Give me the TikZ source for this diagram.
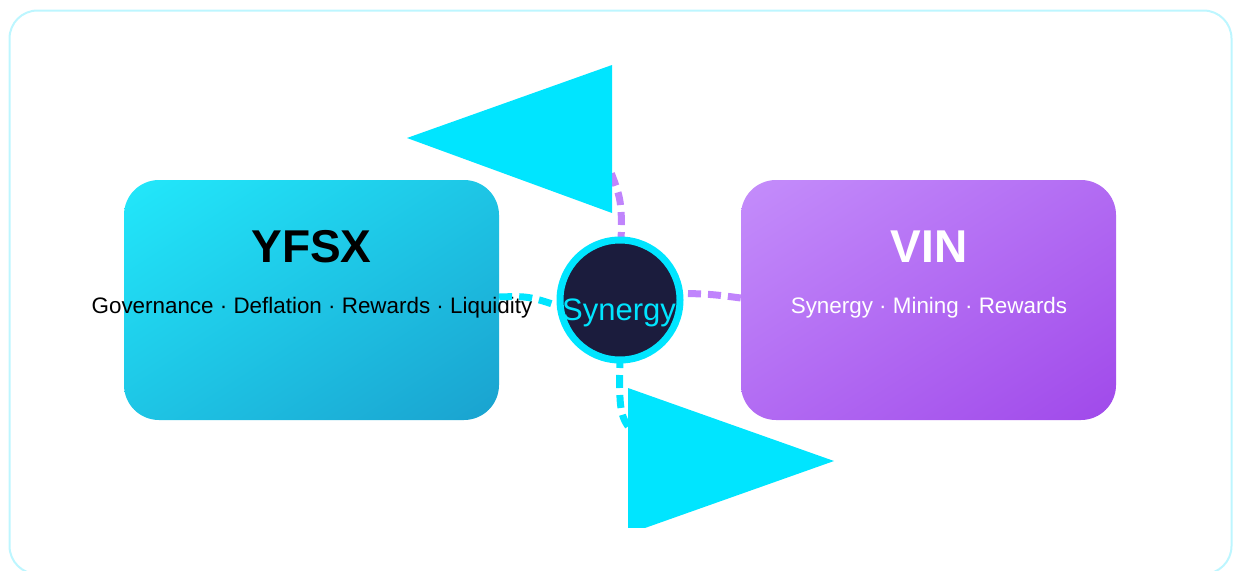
\documentclass[tikz,border=0pt]{standalone}
\usepackage{fontspec}
\setmainfont{Liberation Sans}
\usetikzlibrary{shadings}
\definecolor{frameC}{HTML}{BDF6FF}
\definecolor{cyA}{HTML}{22E8FB}
\definecolor{cyB}{HTML}{1AA2CF}
\definecolor{puA}{HTML}{C48DFB}
\definecolor{puB}{HTML}{A049EA}
\definecolor{cyanC}{HTML}{00E5FF}
\definecolor{purpleC}{HTML}{C084FC}
\definecolor{navyC}{HTML}{1B1C3D}
\tikzset{
  tokenbox/.style={rounded corners=35pt, minimum width=375pt, minimum height=240pt, inner sep=0pt},
  titletext/.style={anchor=base, inner sep=0pt, font=\fontsize{46}{46}\selectfont\bfseries},
  subtext/.style={anchor=base, inner sep=0pt, font=\fontsize{22.4}{22.4}\selectfont},
  cyandash/.style={draw=cyanC, line width=7pt, dash pattern=on 13pt off 7pt},
  purpledash/.style={draw=purpleC, line width=7pt, dash pattern=on 13pt off 7pt},
  bigtip/.style={fill=cyanC, draw=none},
}
\begin{document}
\begin{tikzpicture}[x=1pt,y=-1pt]
\useasboundingbox (0,0) rectangle (1233,570);
\begin{scope}
\clip (0,0) rectangle (1233,570);
\draw[frameC, line width=2pt, rounded corners=28pt] (9.5,10.5) rectangle (1231.5,574);
\end{scope}
% boxes
\node[tokenbox, shade, upper left=cyA, lower right=cyB, upper right=cyA!50!cyB, lower left=cyA!50!cyB] (yfsx) at (311.5,300) {};
\node[tokenbox, shade, upper left=puA, lower right=puB, upper right=puA!50!puB, lower left=puA!50!puB] (vin) at (928.5,300) {};
\node[titletext, text=black] (yfsxT) at (311.5,262) {YFSX};
\node[subtext, text=black] (yfsxS) at (312,313) {Governance · Deflation · Rewards · Liquidity};
\node[titletext, text=white] (vinT) at (929,262) {VIN};
\node[subtext, text=white] (vinS) at (929,313) {Synergy · Mining · Rewards};
% hub placeholder for anchors
\coordinate (hubc) at (620,300);
\coordinate (topend) at (606,160);
\coordinate (botend) at (642,442);
% connectors
\draw[cyandash] ([yshift=3pt]yfsx.east) .. controls (530,296) .. (575,312);
\draw[purpledash] (668,293) .. controls (710,294) .. ([yshift=2pt]vin.west);
\draw[purpledash] (621,245) .. controls (622,200) .. (topend);
\draw[cyandash] (620,355) .. controls (619,418) .. (botend);
% hub
\node[circle, minimum size=120pt, inner sep=0pt, draw=cyanC, line width=7pt, fill=navyC] (hub) at (hubc) {};
\node[anchor=base, inner sep=0pt, text=cyanC, font=\fontsize{31}{31}\selectfont] (hubT) at (619,320) {Synergy};
% big arrow tips
\fill[bigtip] (407,138) -- (612,65) -- (612,213) -- cycle;
\begin{scope}
\clip (600,380) rectangle (850,527);
\fill[bigtip] (628,388) -- (834,461) -- (628,534) -- cycle;
\end{scope}
\end{tikzpicture}
\end{document}
